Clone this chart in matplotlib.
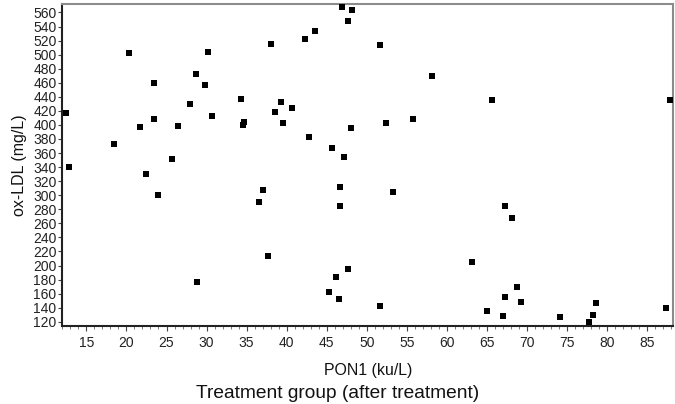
import matplotlib
matplotlib.use("Agg")
import matplotlib.pyplot as plt
from matplotlib.ticker import MultipleLocator

plt.rcParams['font.family'] = ['Liberation Sans', 'DejaVu Sans']

# PON1 (ku/L) vs ox-LDL (mg/L)
pon1 = [12.4, 12.8, 18.4, 20.3, 21.7, 22.4, 23.5, 23.5, 24.0, 25.7,
        26.4, 27.9, 28.7, 28.8, 29.8, 30.2, 30.7, 34.3, 34.5, 34.7,
        36.5, 37.1, 37.7, 38.0, 38.6, 39.3, 39.6, 40.7, 42.3, 42.8,
        43.5, 45.6, 45.3, 46.2, 46.5, 46.6, 46.7, 46.9, 48.2, 47.7,
        51.6, 58.1, 65.6, 87.8, 55.8, 52.4, 48.0, 47.1, 53.3, 67.2,
        68.1, 63.1, 47.7, 51.6, 65.0, 67.0, 67.3, 68.8, 69.3, 74.1,
        77.7, 78.2, 78.6, 87.3]
oxldl = [417, 340, 373, 502, 397, 330, 408, 459, 301, 351,
         398, 430, 472, 176, 457, 504, 413, 437, 400, 404,
         291, 308, 214, 515, 418, 432, 403, 424, 522, 383,
         533, 367, 162, 184, 152, 312, 284, 568, 564, 548,
         513, 469, 435, 435, 408, 403, 395, 354, 304, 284,
         268, 205, 195, 142, 135, 128, 155, 169, 148, 127,
         119, 129, 146, 139]

fig = plt.figure(figsize=(6.75, 4.04), dpi=100)
ax = fig.add_axes([0.092, 0.193, 0.9055, 0.796])

ax.scatter(pon1, oxldl, marker='s', s=22, color='black', linewidths=0, zorder=3)

ax.set_xlim(11.97, 88.25)
ax.set_ylim(113.9, 571.4)
ax.xaxis.set_major_locator(MultipleLocator(5))
ax.xaxis.set_minor_locator(MultipleLocator(1))
ax.yaxis.set_major_locator(MultipleLocator(20))

ax.tick_params(axis='both', which='major', labelsize=10, color='#444444',
               length=3, width=0.8, pad=1)
ax.tick_params(axis='x', which='minor', color='#666666', length=2, width=0.6)
ax.tick_params(axis='x', which='major', pad=4, length=3.5)
ax.tick_params(labelcolor='#222222')

for side in ['left', 'bottom']:
    ax.spines[side].set_color('#222222')
    ax.spines[side].set_linewidth(1.5)
for side in ['top', 'right']:
    ax.spines[side].set_color('#8c8c8c')
    ax.spines[side].set_linewidth(1.5)

ax.set_ylabel('ox-LDL (mg/L)', fontsize=11.5, color='#111111', labelpad=4)
ax.set_xlabel('PON1 (ku/L)', fontsize=11.4, color='#111111', labelpad=9)
fig.text(0.5, 0.027, 'Treatment group (after treatment)', ha='center',
         va='center', fontsize=13.8, color='#111111')

plt.savefig('out.png', dpi=100)
